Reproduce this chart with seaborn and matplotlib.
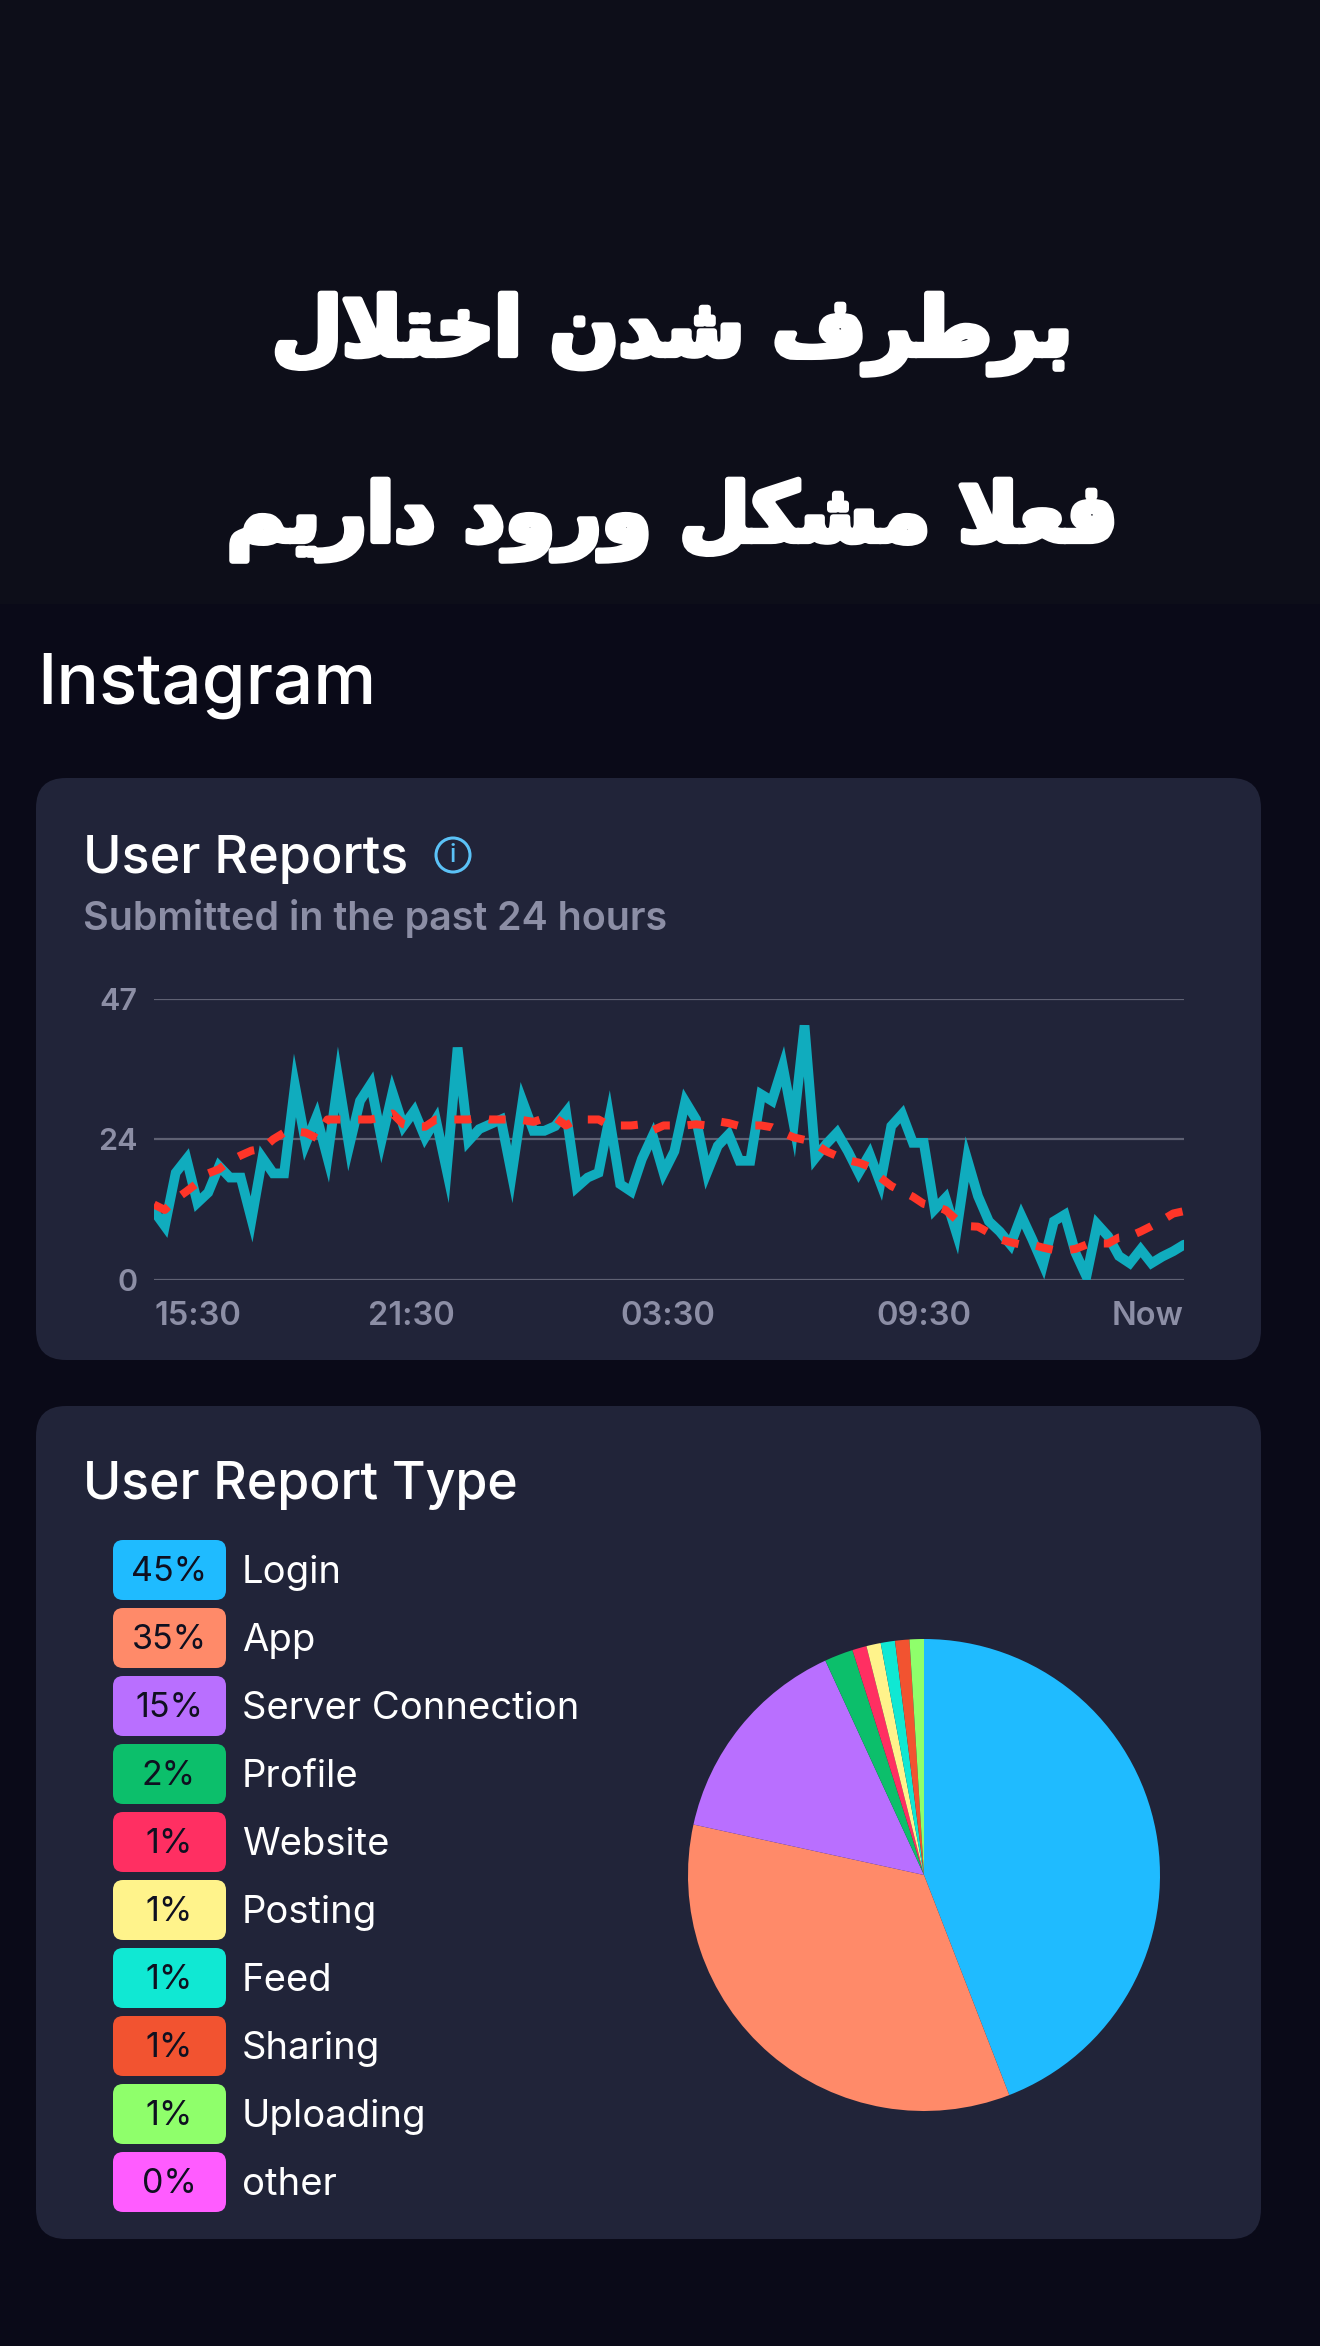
import matplotlib
matplotlib.use("Agg")
import matplotlib.pyplot as plt
import matplotlib.patheffects as pe
from matplotlib.patches import FancyBboxPatch, Rectangle, Circle
import seaborn as sns

TITLE_LINES = ["برطرف شدن اختلال", "فعلا مشکل ورود داریم"]
APP_NAME = "Instagram"
CHART_TITLE = "User Reports"
CHART_SUB = "Submitted in the past 24 hours"
PIE_TITLE = "User Report Type"

# 15 minute report counts
reports = [11.5, 9.0, 17.9, 20.2, 12.9, 14.6, 19.0, 17.1, 17.1, 10.1, 20.4, 17.8,
           17.8, 32.5, 22.8, 27.3, 20.4, 33.5, 22.3, 29.9, 32.7, 23.4, 31.3, 25.7,
           28.2, 23.8, 26.8, 18.3, 38.8, 23.2, 25.2, 26.0, 26.8, 17.6, 29.8, 24.9,
           24.9, 25.7, 28.0, 15.5, 17.1, 17.9, 27.1, 16.0, 14.8, 20.2, 24.1, 17.9,
           21.5, 29.8, 26.8, 17.9, 22.4, 24.3, 19.9, 19.9, 31.0, 29.9, 35.7, 26.0,
           42.5, 20.4, 22.7, 24.6, 21.5, 17.9, 21.0, 16.2, 25.7, 27.7, 22.9, 22.9,
           11.8, 13.7, 7.9, 20.2, 14.0, 9.8, 8.1, 5.9, 10.7, 6.8, 2.6, 9.8,
           10.9, 4.5, 0.6, 9.3, 7.3, 4.0, 2.8, 5.1, 2.8, 3.9, 4.8, 5.9]
baseline = [12.6, 11.7, 13.5, 14.8, 16.2, 17.8, 18.5, 19.9, 20.8, 21.6, 21.9, 23.5,
            24.6, 24.8, 24.6, 23.7, 26.8, 26.8, 26.8, 26.8, 26.8, 27.2, 27.8, 26.0,
            25.6, 25.6, 26.8, 26.8, 26.8, 26.8, 27.1, 26.8, 26.8, 26.8, 26.7, 26.4,
            27.0, 27.1, 25.8, 26.8, 26.8, 26.8, 25.8, 25.8, 25.8, 26.0, 25.0, 25.8,
            25.8, 25.8, 26.0, 25.8, 26.5, 26.2, 25.7, 25.8, 25.8, 25.5, 24.6, 23.8,
            23.4, 22.7, 21.5, 20.7, 20.0, 19.6, 18.9, 17.1, 15.7, 14.8, 13.9, 12.7,
            12.3, 11.7, 10.1, 9.0, 8.9, 7.9, 6.8, 6.3, 5.9, 5.9, 5.4, 5.0,
            4.9, 5.2, 5.9, 6.1, 6.1, 7.1, 7.3, 8.1, 9.0, 10.0, 11.1, 11.5]
y_ticks = [0, 23.5, 47]
y_labels = ["0", "24", "47"]
x_ticks = [0, 23.7, 47.4, 71, 95]
x_labels = ["15:30", "21:30", "03:30", "09:30", "Now"]

report_types = ["Login", "App", "Server Connection", "Profile", "Website",
                "Posting", "Feed", "Sharing", "Uploading", "other"]
report_share = [45, 35, 15, 2, 1, 1, 1, 1, 1, 0]
report_colors = ["#1FBBFF", "#FF8A69", "#B96FFF", "#0CBF6B", "#FF2F62",
                 "#FFF38B", "#10E8D3", "#F25330", "#8FFF6B", "#FF5CFF"]

BG = "#0A0A18"
BG_TOP = "#0D0E19"
CARD = "#212439"
GREY = "#8C8EA5"
LATIN = ["Inter", "DejaVu Sans"]

# isolated, final, initial, medial
FORMS = {
    "ب": "\uFE8F\uFE90\uFE91\uFE92", "ر": "\uFEAD\uFEAE", "ط": "\uFEC1\uFEC2\uFEC3\uFEC4",
    "ف": "\uFED1\uFED2\uFED3\uFED4", "ش": "\uFEB5\uFEB6\uFEB7\uFEB8", "د": "\uFEA9\uFEAA",
    "ن": "\uFEE5\uFEE6\uFEE7\uFEE8", "ا": "\uFE8D\uFE8E", "خ": "\uFEA5\uFEA6\uFEA7\uFEA8",
    "ت": "\uFE95\uFE96\uFE97\uFE98", "ل": "\uFEDD\uFEDE\uFEDF\uFEE0", "ع": "\uFEC9\uFECA\uFECB\uFECC",
    "م": "\uFEE1\uFEE2\uFEE3\uFEE4", "ک": "\uFB8E\uFB8F\uFB90\uFB91", "و": "\uFEED\uFEEE",
    "ی": "\uFBFC\uFBFD\uFBFE\uFBFF",
}


def shape(text):
    # matplotlib does no arabic shaping, so pick the joined forms here
    out = []
    i = 0
    while i < len(text):
        c = text[i]
        if c not in FORMS:
            out.append(c)
            i += 1
            continue
        prev = text[i - 1] if i > 0 else " "
        joins_prev = prev in FORMS and len(FORMS[prev]) == 4
        if c == "ل" and text[i + 1:i + 2] == "ا":
            out.append("\uFEFC" if joins_prev else "\uFEFB")
            i += 2
            continue
        nxt = text[i + 1] if i + 1 < len(text) else " "
        joins_next = nxt in FORMS and len(FORMS[c]) == 4
        idx = {(False, False): 0, (True, False): 1, (False, True): 2, (True, True): 3}[(joins_prev, joins_next)]
        out.append(FORMS[c][idx])
        i += 1
    return "".join(out)[::-1]


sns.set_style("dark")
plt.rcParams["font.family"] = LATIN

W, H = 1320, 2346
fig = plt.figure(figsize=(W / 100, H / 100), dpi=100, facecolor=BG)


def px_axes(x0, y0, x1, y1):
    return fig.add_axes([x0 / W, 1 - y1 / H, (x1 - x0) / W, (y1 - y0) / H])


page = fig.add_axes([0, 0, 1, 1], zorder=0)
page.set_xlim(0, W)
page.set_ylim(H, 0)
page.axis("off")
page.add_patch(Rectangle((0, 0), W, 604, color=BG_TOP, lw=0))
for x0, y0, x1, y1 in [(36, 778, 1261, 1360), (36, 1406, 1261, 2239)]:
    page.add_patch(FancyBboxPatch((x0 + 30, y0 + 30), x1 - x0 - 60, y1 - y0 - 60,
                                  boxstyle="round,pad=30,rounding_size=30", fc=CARD, ec="none"))

for line, y in zip(TITLE_LINES, [334, 520]):
    page.text(672, y, shape(line), color="white", fontsize=58, fontweight="bold",
              family="DejaVu Sans", ha="center", va="center",
              path_effects=[pe.withStroke(linewidth=4.5, foreground="white")])

page.text(37, 686, APP_NAME, color="white", fontsize=51, fontweight="medium", va="center")
page.text(83, 859, CHART_TITLE, color="white", fontsize=37.5, fontweight="medium", va="center")
page.text(83, 918, CHART_SUB, color=GREY, fontsize=28.4, fontweight="semibold", va="center")
page.text(83, 1486, PIE_TITLE, color="white", fontsize=37.3, fontweight="medium", va="center")
page.add_patch(Circle((453, 855), 17, fc="none", ec="#5BC2F7", lw=2.2))
page.text(453, 855, "i", color="#5BC2F7", fontsize=18, ha="center", va="center", fontweight="medium")

# legend badges
for i, (name, share, col) in enumerate(zip(report_types, report_share, report_colors)):
    yc = 1570 + i * 68
    page.add_patch(FancyBboxPatch((123, yc - 20), 93, 40, boxstyle="round,pad=10,rounding_size=10",
                                  fc=col, ec="none"))
    page.text(169, yc + 2, f"{share}%", color="#0F1020", fontsize=24.5, ha="center", va="center")
    page.text(242, yc + 3, name, color="white", fontsize=27.5, va="center")

# line chart
ax = px_axes(154, 998.5, 1184, 1280)
ax.set_facecolor("none")
xs = list(range(len(reports)))
sns.lineplot(x=xs, y=reports, ax=ax, color="#10ACBE", linewidth=7, solid_joinstyle="miter", zorder=3)
sns.lineplot(x=xs, y=baseline, ax=ax, color="#FF3528", linewidth=5.8, linestyle=(0, (2.1, 2.2)),
             dash_capstyle="butt", zorder=4)
ax.set_xlim(0, 95)
ax.set_ylim(0, 47)
ax.set_yticks(y_ticks, y_labels)
ax.set_xticks(x_ticks, x_labels)
ax.grid(axis="y", color="#5F6173", lw=1.6)
ax.grid(axis="x", visible=False)
ax.tick_params(length=0, labelcolor=GREY, pad=12)
ax.tick_params(axis="y", labelsize=22)
ax.tick_params(axis="x", labelsize=23.5, pad=15)
for lbl in ax.get_xticklabels() + ax.get_yticklabels():
    lbl.set_fontweight("semibold")
ax.get_xticklabels()[0].set_ha("left")
ax.get_xticklabels()[-1].set_ha("right")
sns.despine(ax=ax, left=True, bottom=True)

# pie
pie_ax = px_axes(924 - 240, 1875 - 240, 924 + 240, 1875 + 240)
pie_ax.pie(report_share, colors=report_colors, startangle=90, counterclock=False, radius=236 / 240,
           wedgeprops={"linewidth": 0})
pie_ax.set_xlim(-1, 1)
pie_ax.set_ylim(-1, 1)

fig.savefig("out.png", dpi=100, facecolor=BG)
